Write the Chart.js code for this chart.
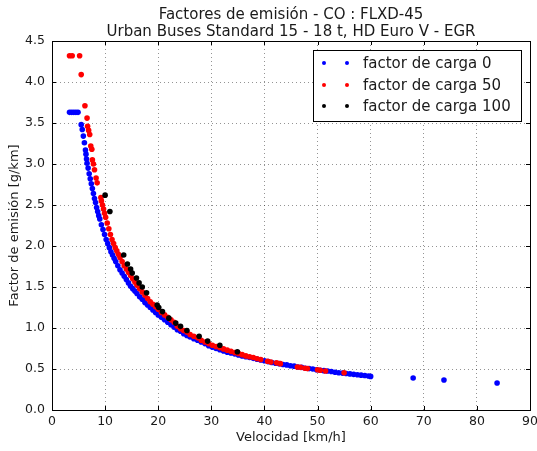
<!DOCTYPE html>
<html>
<head>
<meta charset="utf-8">
<script src="https://cdn.jsdelivr.net/npm/chart.js@4.4.1/dist/chart.umd.min.js"></script>
<style>
    body { margin: 0; background: #ffffff; }
    #holder { width: 537px; height: 451px; }
</style>
</head>
<body>
<div id="holder"><canvas id="ChartHolder" width="537" height="451"></canvas></div>
<script>

var titleLines = ["Factores de emisión - CO : FLXD-45", "Urban Buses Standard 15 - 18 t, HD Euro V - EGR"];
var xAxisLabel = "Velocidad [km/h]";
var yAxisLabel = "Factor de emisión [g/km]";
var seriesLabels = ["factor de carga 0", "factor de carga 50", "factor de carga 100"];
var seriesColors = ["#0000ff", "#ff0000", "#000000"];

var xTicks = [0, 10, 20, 30, 40, 50, 60, 70, 80, 90];
var yTicks = [0.0, 0.5, 1.0, 1.5, 2.0, 2.5, 3.0, 3.5, 4.0, 4.5];

// factor de carga 0
var speedLoad0 = [3.3, 3.7, 4.1, 4.5, 4.9, 5.5, 5.7, 5.9, 6.1, 6.3, 6.4, 6.5, 6.6, 6.8, 7.0, 7.2, 7.4, 7.6, 7.8, 8.0,
    8.2, 8.4, 8.6, 8.8, 9.0, 9.3, 9.6, 9.9, 10.2, 10.5, 10.8, 11.1, 11.4, 11.7, 12.0, 12.4, 12.8, 13.2, 13.6, 14.0,
    14.4, 14.8, 15.2, 15.6, 16.0, 16.5, 17.0, 17.5, 18.0, 18.5, 19.0, 19.5, 20.0, 20.6, 21.2, 21.8, 22.4, 23.0, 23.6, 24.2,
    24.8, 25.4, 26.0, 26.7, 27.4, 28.1, 28.8, 29.5, 30.2, 30.9, 31.6, 32.3, 33.0, 33.7, 34.4, 35.1, 35.8, 36.5, 37.2, 37.9,
    38.6, 39.3, 40.0, 40.7, 41.4, 42.1, 42.8, 43.5, 44.2, 44.9, 45.6, 46.3, 47.0, 47.7, 48.4, 49.1, 49.8, 50.5, 51.2, 51.9,
    52.6, 53.3, 54.0, 54.7, 55.4, 56.1, 56.8, 57.5, 58.2, 58.9, 59.6, 60.0, 68.0, 73.8, 83.8];
var efLoad0 = [3.63, 3.63, 3.63, 3.63, 3.63, 3.48, 3.42, 3.34, 3.26, 3.17, 3.12, 3.06, 3.01, 2.95, 2.88, 2.82, 2.76, 2.70, 2.64, 2.58,
    2.53, 2.47, 2.42, 2.37, 2.33, 2.26, 2.20, 2.14, 2.08, 2.03, 1.98, 1.93, 1.89, 1.85, 1.81, 1.76, 1.71, 1.67, 1.63, 1.59,
    1.55, 1.51, 1.48, 1.45, 1.42, 1.38, 1.35, 1.31, 1.28, 1.25, 1.22, 1.19, 1.16, 1.13, 1.10, 1.07, 1.04, 1.01, 0.98, 0.96,
    0.93, 0.91, 0.89, 0.87, 0.85, 0.83, 0.81, 0.785, 0.765, 0.75, 0.735, 0.72, 0.705, 0.695, 0.685, 0.67, 0.66, 0.65, 0.64, 0.63,
    0.62, 0.61, 0.60, 0.59, 0.58, 0.57, 0.565, 0.555, 0.55, 0.54, 0.535, 0.525, 0.52, 0.51, 0.505, 0.50, 0.49, 0.485, 0.48, 0.475,
    0.47, 0.46, 0.455, 0.45, 0.445, 0.44, 0.435, 0.43, 0.425, 0.42, 0.415, 0.41, 0.39, 0.365, 0.33];

// factor de carga 50
var speedLoad50 = [3.3, 3.8, 5.2, 5.5, 6.2, 6.6, 6.7, 6.9, 7.1, 7.3, 7.5, 7.6, 7.8, 8.0, 8.3, 8.5, 9.2, 9.3, 9.5, 9.7,
    9.9, 10.1, 10.4, 10.7, 11.0, 11.3, 11.6, 11.9, 12.2, 12.5, 12.8, 13.2, 13.6, 14.0, 14.4, 14.8, 15.2, 15.6, 16.0, 16.5,
    17.0, 17.5, 18.0, 18.5, 19.0, 19.5, 20.0, 20.6, 21.2, 21.8, 22.4, 23.0, 23.6, 24.2, 24.8, 25.4, 26.0, 26.7, 27.4, 28.1,
    28.8, 29.5, 30.2, 30.9, 31.6, 32.3, 33.0, 33.7, 34.4, 35.1, 35.8, 36.5, 37.2, 37.9, 38.6, 39.3, 40.6, 41.2, 42.3, 43.0,
    46.2, 46.8, 47.6, 48.1, 50.0, 50.5, 51.5, 55.0];
var efLoad50 = [4.32, 4.32, 4.32, 4.09, 3.71, 3.56, 3.46, 3.41, 3.36, 3.22, 3.18, 3.05, 3.00, 2.93, 2.83, 2.77, 2.59, 2.55, 2.50, 2.45,
    2.40, 2.35, 2.28, 2.21, 2.14, 2.08, 2.03, 1.98, 1.94, 1.90, 1.86, 1.81, 1.76, 1.72, 1.68, 1.64, 1.60, 1.56, 1.52, 1.48,
    1.44, 1.40, 1.36, 1.32, 1.29, 1.26, 1.23, 1.19, 1.16, 1.13, 1.10, 1.07, 1.02, 0.99, 0.97, 0.95, 0.92, 0.90, 0.88, 0.85,
    0.83, 0.81, 0.79, 0.775, 0.76, 0.745, 0.73, 0.715, 0.70, 0.69, 0.675, 0.66, 0.65, 0.64, 0.625, 0.615, 0.595, 0.585, 0.575, 0.565,
    0.525, 0.52, 0.51, 0.505, 0.49, 0.485, 0.475, 0.455];

// factor de carga 100
var speedLoad100 = [10.0, 10.9, 13.5, 14.2, 14.8, 15.1, 15.9, 16.4, 17.0, 17.8, 19.8, 20.1, 20.8, 22.0, 23.3, 24.2, 25.4, 27.7, 29.3, 31.6, 34.9];
var efLoad100 = [2.62, 2.42, 1.89, 1.78, 1.72, 1.67, 1.61, 1.55, 1.50, 1.43, 1.28, 1.25, 1.20, 1.12, 1.06, 1.02, 0.97, 0.90, 0.84, 0.79, 0.71];

function toPoints(xs, ys) {
    let pts = [];
    for (let i = 0; i < xs.length; i++) {
        pts.push({ x: xs[i], y: ys[i] });
    }
    return pts;
}

var fontName = '"DejaVu Sans", sans-serif';
var textColor = '#1a1a1a';

// frame, inward tick marks, title lines and the legend box (matplotlib look)
var decorations = {
    id: 'decorations',
    afterDraw: function (chart) {
        var c = chart.ctx;
        var a = chart.chartArea;
        var xs = chart.scales.x;
        var ys = chart.scales.y;
        c.save();

        c.strokeStyle = '#000';
        c.lineWidth = 1;
        c.beginPath();
        xTicks.forEach(function (t) {
            var px = Math.round(xs.getPixelForValue(t)) + 0.5;
            c.moveTo(px, a.bottom); c.lineTo(px, a.bottom - 4);
            c.moveTo(px, a.top); c.lineTo(px, a.top + 4);
        });
        yTicks.forEach(function (t) {
            var py = Math.round(ys.getPixelForValue(t)) + 0.5;
            c.moveTo(a.left, py); c.lineTo(a.left + 4, py);
            c.moveTo(a.right, py); c.lineTo(a.right - 4, py);
        });
        c.stroke();
        c.strokeRect(Math.round(a.left) + 0.5, Math.round(a.top) + 0.5, Math.round(a.right - a.left), Math.round(a.bottom - a.top));

        // title
        var midX = (a.left + a.right) / 2;
        c.fillStyle = textColor;
        c.font = '15px ' + fontName;
        c.textAlign = 'center';
        c.textBaseline = 'middle';
        c.fillText(titleLines[0], midX, 15);
        c.fillText(titleLines[1], midX, 32);

        // legend
        c.fillStyle = '#fff';
        c.fillRect(313.5, 50.5, 208, 71);
        c.strokeStyle = '#000';
        c.strokeRect(313.5, 50.5, 208, 71);
        var rows = [63, 85, 106];
        c.textAlign = 'left';
        for (var i = 0; i < seriesLabels.length; i++) {
            c.fillStyle = seriesColors[i];
            [324, 347].forEach(function (dx) {
                c.beginPath();
                c.arc(dx, rows[i], 2, 0, Math.PI * 2);
                c.fill();
            });
            c.fillStyle = textColor;
            c.fillText(seriesLabels[i], 363, rows[i] + 1);
        }
        c.restore();
    }
};

var ctx = document.getElementById('ChartHolder');

var scatterData = {
    datasets: [{
        label: seriesLabels[0],
        data: toPoints(speedLoad0, efLoad0),
        backgroundColor: seriesColors[0],
        borderWidth: 0,
        pointRadius: 2.8,
        order: 3
    }, {
        label: seriesLabels[1],
        data: toPoints(speedLoad50, efLoad50),
        backgroundColor: seriesColors[1],
        borderWidth: 0,
        pointRadius: 2.8,
        order: 2
    }, {
        label: seriesLabels[2],
        data: toPoints(speedLoad100, efLoad100),
        backgroundColor: seriesColors[2],
        borderWidth: 0,
        pointRadius: 2.8,
        order: 1
    }]
};

var gridStyle = {
    color: 'rgba(0,0,0,0.42)',
    lineWidth: 1,
    drawTicks: false
};

var chartConfig = {
    type: 'scatter',
    data: scatterData,
    options: {
        responsive: false,
        animation: false,
        layout: { padding: { left: 0, top: 41, right: 7, bottom: 0 } },
        plugins: {
            legend: { display: false },
            title: { display: false },
            tooltip: { enabled: false }
        },
        scales: {
            x: {
                type: 'linear',
                position: 'bottom',
                min: 0,
                max: 90,
                afterFit: function (s) {
                    s.height = 41;
                    s.paddingLeft = 0;
                    s.paddingRight = 0;
                },
                afterBuildTicks: function (s) { s.ticks = xTicks.map(function (v) { return { value: v }; }); },
                grid: gridStyle,
                border: { display: false, dash: [1, 3] },
                ticks: {
                    padding: 4,
                    color: textColor,
                    font: { family: fontName, size: 12.5 },
                    maxRotation: 0
                },
                title: {
                    display: true,
                    text: xAxisLabel,
                    color: textColor,
                    font: { family: fontName, size: 13 },
                    padding: { top: 0, bottom: 6 }
                }
            },
            y: {
                type: 'linear',
                min: 0,
                max: 4.5,
                afterFit: function (s) { s.width = 52; },
                afterBuildTicks: function (s) { s.ticks = yTicks.map(function (v) { return { value: v }; }); },
                grid: gridStyle,
                border: { display: false, dash: [1, 3] },
                ticks: {
                    padding: 7,
                    color: textColor,
                    font: { family: fontName, size: 12.5 },
                    callback: function (v) { return v.toFixed(1); }
                },
                title: {
                    display: true,
                    text: yAxisLabel,
                    color: textColor,
                    font: { family: fontName, size: 13 },
                    padding: { top: 7, bottom: 0 }
                }
            }
        }
    },
    plugins: [decorations]
};

var currentChart = new Chart(ctx, chartConfig);
</script>
</body>
</html>
